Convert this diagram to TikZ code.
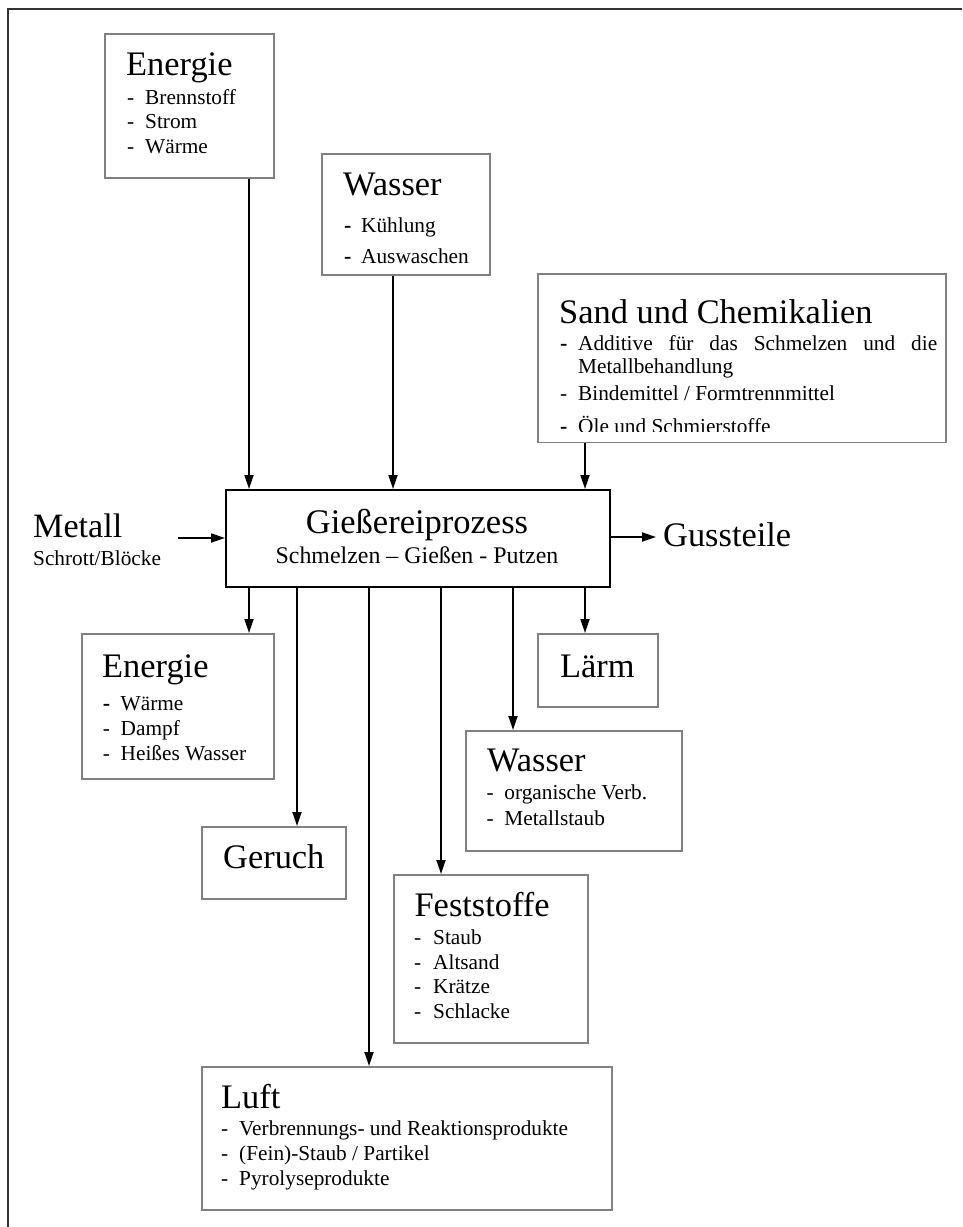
\documentclass[tikz,border=0pt]{standalone}
\usepackage{fontspec}
\setmainfont{Liberation Serif}
\usetikzlibrary{arrows.meta}
\definecolor{boxgray}{RGB}{128,128,128}
\definecolor{framegray}{RGB}{50,50,50}
\tikzset{
  gbox/.style={draw=boxgray, line width=1.6pt, rectangle, inner sep=0pt, anchor=north west},
  mbox/.style={draw=black, line width=2pt, rectangle, inner sep=0pt, anchor=north west},
  ttl/.style={anchor=base west, inner sep=0pt, font=\fontsize{34.4pt}{40pt}\selectfont},
  sub/.style={anchor=base west, inner sep=0pt, font=\fontsize{21.3pt}{25pt}\selectfont},
  itm/.style={anchor=base west, inner sep=0pt, font=\fontsize{21.3pt}{25pt}\selectfont},
  bdash/.style={anchor=base west, inner sep=0pt, font=\fontsize{22pt}{25pt}\selectfont\bfseries},
  arr/.style={line width=1.8pt, -{Triangle[length=14pt,width=9pt]}},
  frameline/.style={draw=framegray, line width=1.6pt},
}
\begin{document}
\begin{tikzpicture}[x=1pt,y=-1pt]
\useasboundingbox (0,0) rectangle (962,1227);
\draw[frameline] (962,9) -- (8,9) -- (8,1227);

% ---------- boxes ----------
\node[gbox, minimum width=169pt, minimum height=144pt] (ein) at (104,33) {};
\node[gbox, minimum width=168pt, minimum height=121pt] (win) at (321,153) {};
\node[mbox, minimum width=384pt, minimum height=97pt] (main) at (225,489) {};
\node[gbox, minimum width=192pt, minimum height=145pt] (eout) at (81,633) {};
\node[gbox, minimum width=120pt, minimum height=73pt] (laerm) at (537,633) {};
\node[gbox, minimum width=216pt, minimum height=120pt] (wout) at (465,730) {};
\node[gbox, minimum width=144pt, minimum height=72pt] (geruch) at (201,826) {};
\node[gbox, minimum width=194pt, minimum height=168pt] (fest) at (393,874) {};
\node[gbox, minimum width=410pt, minimum height=143pt] (luft) at (201,1066) {};

% ---------- Energie (in) ----------
\node[ttl] (t-ein) at (126,75) {Energie};
\node[itm] (d-ein-1) at (127,104) {-};
\node[itm] (i-ein-1) at (145,104) {Brennstoff};
\node[itm] (d-ein-2) at (127,128.7) {-};
\node[itm] (i-ein-2) at (145,128.7) {Strom};
\node[itm] (d-ein-3) at (127,153.3) {-};
\node[itm] (i-ein-3) at (145,153.3) {Wärme};

% ---------- Wasser (in) ----------
\node[ttl] (t-win) at (343,195) {Wasser};
\node[bdash] (d-win-1) at (344,232) {-};
\node[itm] (i-win-1) at (361,232) {Kühlung};
\node[bdash] (d-win-2) at (344,263) {-};
\node[itm] (i-win-2) at (361,263) {Auswaschen};

% ---------- Sand und Chemikalien ----------
\node[ttl] (t-sin) at (559,323) {Sand und Chemikalien};
\node[bdash] (d-sin-1) at (560,350.7) {-};
\node[itm] (i-sin-1) at (578,350.7) {\makebox[359pt][s]{Additive für das Schmelzen und die}};
\node[itm] (i-sin-1b) at (578,373) {Metallbehandlung};
\node[itm] (d-sin-2) at (560,400) {-};
\node[itm] (i-sin-2) at (578,400) {Bindemittel / Formtrennmittel};
\begin{scope}
\clip (537,410) rectangle (945,431.5);
\node[bdash] (d-sin-3) at (560,433.5) {-};
\node[itm] (i-sin-3) at (578,433.5) {Öle und Schmierstoffe};
\end{scope}
\node[gbox, minimum width=408pt, minimum height=168.5pt] (sin) at (537,273) {};

% ---------- main process ----------
\node[anchor=base, inner sep=0pt, font=\fontsize{34.5pt}{40pt}\selectfont] (t-main) at (417,533) {Gießereiprozess};
\node[anchor=base, inner sep=0pt, font=\fontsize{23.9pt}{28pt}\selectfont] (s-main) at (417,563) {Schmelzen – Gießen - Putzen};

% ---------- Metall / Gussteile ----------
\node[anchor=base west, inner sep=0pt, font=\fontsize{34.1pt}{40pt}\selectfont] (t-metall) at (33,537) {Metall};
\node[sub] (s-metall) at (33,565) {Schrott/Blöcke};
\node[ttl] (t-guss) at (663,546) {Gussteile};
\coordinate (mstart) at (178,538);
\coordinate (gend) at (656,537);

% ---------- Energie (out) ----------
\node[ttl] (t-eout) at (102,677) {Energie};
\node[bdash] (d-eout-1) at (102.6,710.7) {-};
\node[itm] (i-eout-1) at (120.5,710.7) {Wärme};
\node[itm] (d-eout-2) at (102.6,735) {-};
\node[itm] (i-eout-2) at (120.5,735) {Dampf};
\node[itm] (d-eout-3) at (102.6,760) {-};
\node[itm] (i-eout-3) at (120.5,760) {Heißes Wasser};

% ---------- Lärm ----------
\node[ttl] (t-laerm) at (560,677) {Lärm};

% ---------- Wasser (out) ----------
\node[ttl] (t-wout) at (487,771.7) {Wasser};
\node[itm] (d-wout-1) at (486.4,799) {-};
\node[itm] (i-wout-1) at (504.2,799) {organische Verb.};
\node[itm] (d-wout-2) at (486.4,825) {-};
\node[itm] (i-wout-2) at (504.2,825) {Metallstaub};

% ---------- Geruch ----------
\node[ttl] (t-geruch) at (223,868) {Geruch};

% ---------- Feststoffe ----------
\node[ttl] (t-fest) at (414.4,916.7) {Feststoffe};
\node[itm] (d-fest-1) at (414,944) {-};
\node[itm] (i-fest-1) at (433,944) {Staub};
\node[itm] (d-fest-2) at (414,969) {-};
\node[itm] (i-fest-2) at (433,969) {Altsand};
\node[itm] (d-fest-3) at (414,993) {-};
\node[itm] (i-fest-3) at (433,993) {Krätze};
\node[itm] (d-fest-4) at (414,1018) {-};
\node[itm] (i-fest-4) at (433,1018) {Schlacke};

% ---------- Luft ----------
\node[ttl] (t-luft) at (221,1108) {Luft};
\node[itm] (d-luft-1) at (221,1135) {-};
\node[itm] (i-luft-1) at (239,1135) {Verbrennungs- und Reaktionsprodukte};
\node[itm] (d-luft-2) at (221,1160.7) {-};
\node[itm] (i-luft-2) at (239,1160.7) {(Fein)-Staub / Partikel};
\node[itm] (d-luft-3) at (221,1185.7) {-};
\node[itm] (i-luft-3) at (239,1185.7) {Pyrolyseprodukte};

% ---------- arrow columns ----------
\coordinate (xa) at (249,0);
\coordinate (xb) at (297,0);
\coordinate (xc) at (369,0);
\coordinate (xd) at (441,0);
\coordinate (xe) at (513,0);
\coordinate (xf) at (585,0);
\coordinate (xw) at (393,0);

% inputs
\draw[arr] (ein.south -| xa) -- (main.north -| xa);
\draw[arr] (win.south -| xw) -- (main.north -| xw);
\draw[arr] (sin.south -| xf) -- (main.north -| xf);
\draw[arr] (mstart) -- (mstart -| main.west);
\draw[arr] (main.east |- gend) -- (gend);

% outputs
\draw[arr] (main.south -| xa) -- (eout.north -| xa);
\draw[arr] (main.south -| xb) -- (geruch.north -| xb);
\draw[arr] (main.south -| xc) -- (luft.north -| xc);
\draw[arr] (main.south -| xd) -- (fest.north -| xd);
\draw[arr] (main.south -| xe) -- (wout.north -| xe);
\draw[arr] (main.south -| xf) -- (laerm.north -| xf);
\end{tikzpicture}
\end{document}
